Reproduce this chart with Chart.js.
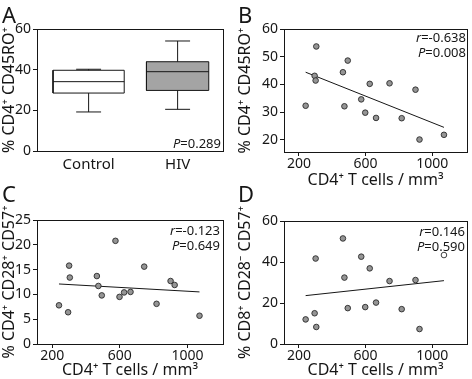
<!DOCTYPE html>
<html><head><meta charset="utf-8">
<script src="https://cdn.jsdelivr.net/npm/chart.js@4.4.1/dist/chart.umd.min.js"></script>
<style>
html,body{margin:0;padding:0;background:#fff;}
body{position:relative;width:472px;height:379px;overflow:hidden;font-family:"Noto Sans","DejaVu Sans",sans-serif;color:#161616;}
.panel{position:absolute;width:236px;height:190px;}
.panel canvas{display:block;}
.letter{position:absolute;font-size:22px;line-height:22px;}
.note{position:absolute;font-size:13px;line-height:15px;text-align:right;white-space:nowrap;}
</style></head><body>
<div class="panel" style="left:0;top:0"><canvas id="cA" width="236" height="190"></canvas></div>
<div class="panel" style="left:236px;top:0"><canvas id="cB" width="236" height="190"></canvas></div>
<div class="panel" style="left:0;top:190px"><canvas id="cC" width="236" height="190"></canvas></div>
<div class="panel" style="left:236px;top:190px"><canvas id="cD" width="236" height="190"></canvas></div>
<div class="letter" style="left:2px;top:3px">A</div>
<div class="letter" style="left:238px;top:3px">B</div>
<div class="letter" style="left:2px;top:182px">C</div>
<div class="letter" style="left:238px;top:182px">D</div>
<div class="note" style="right:251px;top:136px"><i>P</i>=0.289</div>
<div class="note" style="right:6px;top:30px"><i>r</i>=-0.638<br><i>P</i>=0.008</div>
<div class="note" style="right:252px;top:223px"><i>r</i>=-0.123<br><i>P</i>=0.649</div>
<div class="note" style="right:7px;top:224px"><i>r</i>=0.146<br><i>P</i>=0.590</div>
<script>
// ---- Panel A: box plot summary ----
const groups = ['Control', 'HIV'];
const boxMin = [19.2, 20.5];
const boxQ1 = [28.5, 29.8];
const boxMedian = [34.1, 39.0];
const boxQ3 = [39.7, 43.9];
const boxMax = [40.2, 54.1];
const boxFill = ['#ffffff', '#a4a4a4'];

// ---- Panels B-D: scatter data ----
const cd4Counts = [240, 294, 300, 304, 464, 473, 493, 574, 598, 625, 663, 744, 817, 900, 924, 1071];
const cd45roPct = [32.3, 43.1, 41.4, 53.7, 44.4, 32.1, 48.6, 34.6, 29.8, 40.2, 27.9, 40.4, 27.8, 38.1, 20.1, 21.8];
const cd28cd57Pct = [7.8, 6.4, 15.8, 13.4, 13.7, 11.7, 9.8, 20.8, 9.5, 10.4, 10.5, 15.6, 8.1, 12.7, 11.9, 5.7];
const cd8cd57Pct = [12.0, 15.0, 41.7, 8.3, 51.5, 32.4, 17.5, 42.6, 18.0, 36.9, 20.2, 30.7, 17.0, 31.2, 7.3, 43.4];
const fitB = [44.4, 24.5];
const fitC = [12.1, 10.5];
const fitD = [23.6, 30.9];
const xTicks = [200, 600, 1000];
const yTicksA = [0, 20, 40, 60];
const yTicksB = [20, 30, 40, 50, 60];
const yTicksC = [0, 5, 10, 15, 20, 25];
const yTicksD = [0, 20, 40, 60];

const FONT = '"Noto Sans", "DejaVu Sans", sans-serif';
const INK = '#161616';

const framePlugin = {
  id: 'frame',
  afterDatasetsDraw(chart) {
    const {ctx, chartArea: a} = chart;
    ctx.save();
    ctx.strokeStyle = INK;
    ctx.lineWidth = 1;
    const l = Math.round(a.left) + 0.5, t = Math.round(a.top) + 0.5;
    ctx.strokeRect(l, t, Math.round(a.right) - Math.round(a.left), Math.round(a.bottom) - Math.round(a.top));
    ctx.restore();
  }
};

function yAxis(min, max, ticks, title, width) {
  return {
    type: 'linear', min, max,
    afterBuildTicks: s => { s.ticks = ticks.map(v => ({value: v})); },
    afterFit: s => { s.width = width; },
    border: {display: false},
    grid: {display: true, drawOnChartArea: false, drawTicks: true, tickLength: 4, tickColor: INK, lineWidth: 1},
    ticks: {color: INK, font: {family: FONT, size: 14}, padding: 2, callback: v => String(v)},
    title: {display: true, text: title, color: INK, font: {family: FONT, size: 16}, padding: {top: 0, bottom: 0}}
  };
}

// ---- Panel A ----
(function () {
  const halfW = [0.40, 0.35];
  const capW = 0.14;
  const ds = [];
  groups.forEach((g, i) => {
    const x = i + 1, w = halfW[i];
    const line = (pts, extra) => Object.assign({
      data: pts, borderColor: INK, borderWidth: 1, pointRadius: 0, fill: false, tension: 0, order: 0
    }, extra || {});
    ds.push(line([{x: x - w, y: boxQ1[i]}, {x: x + w, y: boxQ1[i]}, {x: x + w, y: boxQ3[i]}, {x: x - w, y: boxQ3[i]}, {x: x - w, y: boxQ1[i]}],
      {fill: 'shape', backgroundColor: boxFill[i], order: 5}));
    ds.push(line([{x: x - w, y: boxMedian[i]}, {x: x + w, y: boxMedian[i]}]));
    ds.push(line([{x: x, y: boxMin[i]}, {x: x, y: boxQ1[i]}]));
    ds.push(line([{x: x, y: boxQ3[i]}, {x: x, y: boxMax[i]}]));
    ds.push(line([{x: x - capW, y: boxMin[i]}, {x: x + capW, y: boxMin[i]}]));
    ds.push(line([{x: x - capW, y: boxMax[i]}, {x: x + capW, y: boxMax[i]}]));
  });
  new Chart(document.getElementById('cA'), {
    type: 'line',
    data: {datasets: ds},
    options: {
      responsive: false, animation: false, devicePixelRatio: 1,
      layout: {padding: {top: 29, right: 13, left: 0, bottom: 0}},
      plugins: {legend: {display: false}, tooltip: {enabled: false}},
      scales: {
        x: {
          type: 'linear', min: 0.42, max: 2.51,
          afterBuildTicks: s => { s.ticks = [1, 2].map(v => ({value: v})); },
          afterFit: s => { s.height = 39; },
          border: {display: false},
          grid: {display: false, drawTicks: false},
          ticks: {color: INK, font: {family: FONT, size: 15}, padding: 5, callback: v => groups[v - 1] || ''}
        },
        y: yAxis(0, 60, yTicksA, '% CD4\u207A CD45RO\u207A', 37)
      }
    },
    plugins: [framePlugin]
  });
})();

function scatterPanel(id, yVals, fit, yMin, yMax, yTicks, yTitle, opts) {
  const pts = cd4Counts.map((x, i) => ({x, y: yVals[i]}));
  const fills = cd4Counts.map((x, i) => (opts.open && opts.open.includes(i)) ? '#ffffff' : '#959595');
  new Chart(document.getElementById(id), {
    type: 'scatter',
    data: {
      datasets: [
        {data: pts, pointRadius: 2.8, pointBorderWidth: 0.9, pointBackgroundColor: fills, pointBorderColor: '#2a2a2a', order: 0},
        {type: 'line', data: [{x: cd4Counts[0], y: fit[0]}, {x: cd4Counts[cd4Counts.length - 1], y: fit[1]}],
         borderColor: INK, borderWidth: 1, pointRadius: 0, fill: false, order: 1}
      ]
    },
    options: {
      responsive: false, animation: false, devicePixelRatio: 1,
      layout: {padding: {top: opts.top, right: opts.right, left: 0, bottom: 0}},
      plugins: {legend: {display: false}, tooltip: {enabled: false}},
      scales: {
        x: {
          type: 'linear', min: 110, max: 1210,
          afterBuildTicks: s => { s.ticks = xTicks.map(v => ({value: v})); },
          afterFit: s => { s.height = opts.xh; },
          border: {display: false},
          grid: {display: true, drawOnChartArea: false, drawTicks: true, tickLength: 4, tickColor: INK},
          ticks: {color: INK, font: {family: FONT, size: 14}, padding: 0, maxRotation: 0, callback: v => String(v)},
          title: {display: true, text: 'CD4\u207A T cells / mm\u00B3', color: INK, font: {family: FONT, size: 16}, padding: {top: 0, bottom: 0}}
        },
        y: yAxis(yMin, yMax, yTicks, yTitle, opts.yw)
      }
    },
    plugins: [framePlugin]
  });
}

scatterPanel('cB', cd45roPct, fitB, 15.6, 60, yTicksB, '% CD4\u207A CD45RO\u207A', {top: 29, right: 3, xh: 38, yw: 48});
scatterPanel('cC', cd28cd57Pct, fitC, 0, 25, yTicksC, '% CD4\u207A CD28\u207A CD57\u207A', {top: 30, right: 13, xh: 36, yw: 37});
scatterPanel('cD', cd8cd57Pct, fitD, 0, 60, yTicksD, '% CD8\u207A CD28\u207B CD57\u207A', {top: 31, right: 3, xh: 36, yw: 48, open: [15]});
</script>
</body></html>
